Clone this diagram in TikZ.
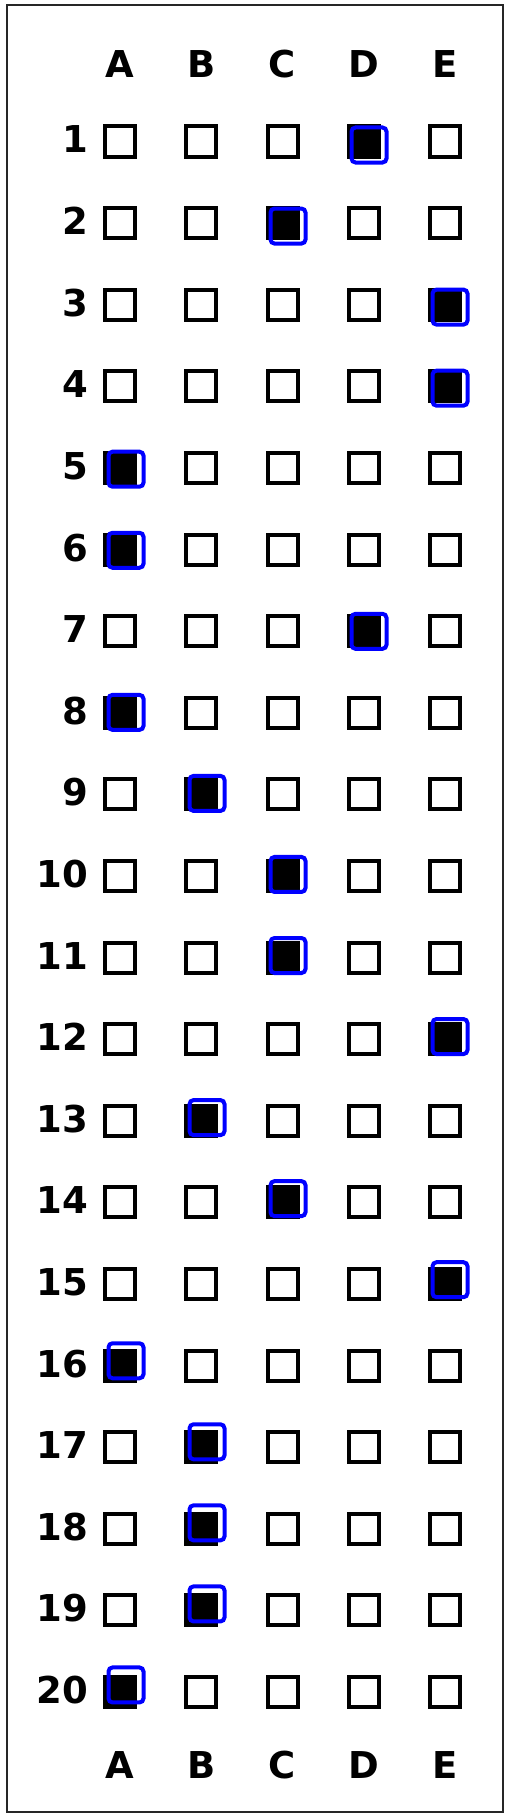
\documentclass[tikz,border=0pt]{standalone}
\usepackage{fontspec}
\setmainfont{DejaVu Sans}
\definecolor{markblue}{RGB}{0,0,255}
\begin{document}
\begin{tikzpicture}[x=1pt,y=-1pt,
  box/.style={rectangle,draw=black,line width=4pt,minimum size=30pt,inner sep=0pt},
  filledbox/.style={box,fill=black},
  answerbox/.style={rectangle,draw=markblue,line width=4pt,minimum size=35pt,inner sep=0pt,rounded corners=4pt},
  lbl/.style={font=\fontsize{37}{40}\selectfont\bfseries,inner sep=0pt},
  frame/.style={rectangle,draw=black!85,line width=1.5pt,inner sep=0pt}]
\useasboundingbox (0,0) rectangle (509,1817);
\node[frame,minimum width=496pt,minimum height=1807pt] (border) at (255,908.5) {};
\foreach \L [count=\j from 0] in {A,B,C,D,E} {
  \node[lbl,anchor=base] (top-\L) at ({120+81.25*\j},78) {\L};
  \node[lbl,anchor=base] (bot-\L) at ({120+81.25*\j},1778) {\L};
}
\foreach \a [count=\i] in {4,3,5,5,1,1,4,1,2,3,3,5,2,3,5,1,2,2,2,1} {
  \pgfmathsetmacro\yy{141.5+81.6*(\i-1)}
  \node[lbl,anchor=base east] (n\i) at (88,\yy+11.5) {\i};
  \foreach \j in {1,...,5} {
    \ifnum\j=\a
      \node[filledbox] (b-\i-\j) at ({120+81.25*(\j-1)},\yy) {};
    \else
      \node[box] (b-\i-\j) at ({120+81.25*(\j-1)},\yy) {};
    \fi
  }
  \node[answerbox] (ans\i) at ({126+81*(\a-1)},{145+81.05*(\i-1)}) {};
}
\end{tikzpicture}
\end{document}
